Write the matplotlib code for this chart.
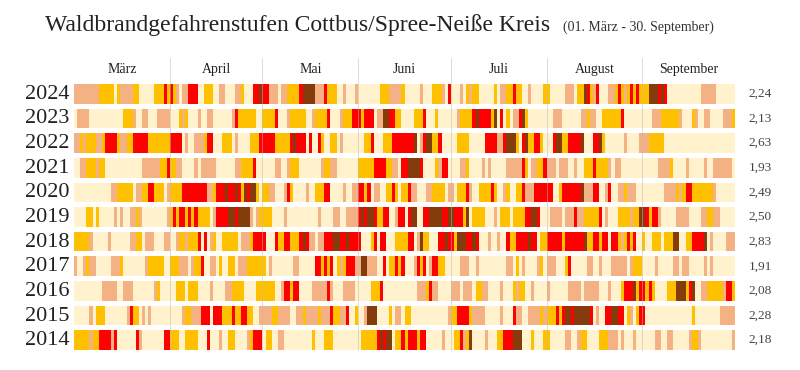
import numpy as np
import matplotlib.pyplot as plt
from matplotlib.colors import ListedColormap, BoundaryNorm

# daily fire danger level (1-5), 01.03. - 30.09., stored as (level, number of days) runs
y2024 = [(2,8),(3,5),(1,1),(3,1),(2,4),(3,2),(1,5),(3,3),(4,1),(3,1),(4,1),(3,1),(2,1),(1,1),(2,2),(4,3),(1,2),(3,3),(1,2),(2,2),(1,3),(2,2),(3,1),(1,3),(4,2),(5,1),(4,2),(2,3),(1,1),(2,2),(3,4),(4,1),(5,4),(2,3),(4,1),(3,3),(1,2),(2,1),(1,3),(2,1),(1,7),(3,3),(2,4),(3,1),(1,5),(2,1),(1,3),(3,3),(2,1),(1,1),(4,1),(1,3),(2,1),(1,1),(3,1),(2,1),(3,2),(1,5),(3,1),(1,1),(2,2),(3,2),(4,1),(3,2),(1,2),(2,1),(1,4),(3,2),(1,5),(2,3),(1,1),(3,2),(5,1),(4,1),(3,1),(2,1),(4,1),(1,3),(2,2),(3,1),(4,1),(3,1),(2,1),(3,1),(4,1),(3,1),(4,1),(3,3),(5,3),(4,1),(5,1),(4,1),(1,11),(2,5),(1,6)]
y2023 = [(1,1),(2,4),(1,11),(3,3),(2,1),(1,2),(2,2),(1,3),(2,4),(1,3),(3,1),(2,1),(3,1),(1,3),(2,1),(1,2),(2,2),(1,6),(2,1),(4,1),(3,6),(1,2),(3,4),(4,1),(1,3),(2,1),(3,5),(1,2),(2,1),(3,4),(4,1),(1,3),(2,1),(3,3),(4,3),(3,1),(4,3),(1,1),(2,2),(5,2),(4,2),(3,2),(1,4),(3,3),(4,1),(1,3),(3,1),(1,6),(2,1),(3,4),(4,1),(5,1),(4,4),(3,1),(5,1),(1,1),(4,1),(1,1),(3,1),(1,1),(2,2),(4,1),(5,1),(3,1),(1,8),(2,3),(1,6),(2,2),(3,1),(2,2),(1,2),(3,6),(4,1),(1,9),(2,3),(3,6),(2,1),(1,3),(3,1),(2,1),(1,2),(2,2),(1,4),(2,3),(3,1)]
y2022 = [(2,2),(3,1),(2,1),(3,3),(2,2),(3,1),(4,4),(3,1),(2,2),(3,2),(4,5),(3,7),(4,4),(1,1),(2,1),(1,2),(2,3),(3,1),(4,2),(1,3),(3,3),(1,1),(2,1),(1,4),(3,3),(4,5),(3,5),(4,1),(5,1),(4,3),(1,1),(4,1),(1,2),(4,1),(3,1),(1,2),(3,2),(1,1),(2,1),(1,7),(3,2),(4,1),(1,3),(3,3),(4,7),(5,1),(1,1),(2,1),(4,1),(5,2),(3,2),(4,1),(1,5),(3,4),(1,5),(4,4),(2,2),(4,1),(5,3),(3,1),(1,1),(4,1),(5,1),(3,2),(4,2),(3,1),(1,3),(4,1),(5,2),(3,2),(4,4),(5,1),(1,3),(4,2),(5,1),(3,1),(1,6),(2,1),(1,4),(2,3),(3,5),(1,23)]
y2021 = [(1,2),(2,2),(3,3),(2,1),(3,2),(1,12),(2,6),(3,2),(4,1),(3,2),(2,2),(1,4),(2,1),(1,1),(2,5),(1,6),(2,2),(3,4),(4,1),(1,6),(2,2),(1,2),(2,1),(3,3),(1,7),(2,1),(3,2),(2,2),(1,7),(3,5),(4,4),(3,2),(2,2),(1,1),(4,2),(5,4),(4,1),(1,4),(3,1),(2,1),(4,2),(1,4),(2,2),(3,1),(1,4),(2,1),(1,1),(2,1),(1,5),(2,5),(4,1),(3,1),(1,1),(2,2),(3,2),(4,1),(2,3),(1,1),(2,3),(1,2),(2,1),(1,2),(3,3),(4,1),(3,4),(2,1),(1,1),(2,2),(1,12),(2,4),(3,1),(1,4),(2,1),(1,5),(2,1),(1,2),(2,6),(1,1)]
y2020 = [(1,12),(2,2),(3,5),(1,1),(2,2),(3,2),(4,2),(3,3),(1,1),(2,1),(3,4),(4,8),(2,2),(3,1),(4,3),(5,1),(4,2),(5,1),(4,1),(3,1),(5,1),(4,1),(5,2),(3,1),(1,1),(3,2),(2,2),(1,3),(2,1),(4,1),(3,1),(1,4),(2,1),(1,2),(3,3),(4,2),(1,4),(2,1),(1,2),(2,2),(4,2),(3,1),(4,1),(1,1),(2,2),(1,2),(3,2),(4,1),(3,1),(1,1),(3,2),(4,1),(2,2),(1,3),(2,2),(3,4),(1,1),(2,2),(1,1),(3,3),(4,1),(2,1),(1,2),(3,4),(4,1),(3,1),(1,2),(2,1),(3,1),(1,2),(3,2),(4,1),(2,3),(4,6),(1,2),(3,1),(4,6),(5,1),(2,3),(4,2),(1,2),(2,1),(4,1),(1,2),(2,2),(3,1),(2,3),(1,9),(2,4),(3,1),(2,1),(3,1),(4,2),(3,7),(2,1),(1,6)]
y2019 = [(1,4),(3,2),(1,1),(3,1),(1,5),(2,1),(1,1),(2,1),(1,2),(2,2),(3,1),(2,1),(1,8),(2,1),(3,1),(4,1),(3,1),(4,2),(3,1),(4,1),(3,1),(4,1),(3,4),(1,1),(2,1),(4,4),(5,2),(4,1),(5,4),(2,1),(1,1),(2,1),(3,4),(1,4),(2,1),(1,10),(2,1),(1,4),(2,2),(1,2),(2,4),(4,1),(5,1),(4,1),(5,2),(4,1),(3,2),(4,2),(1,2),(2,1),(4,2),(1,1),(4,1),(5,2),(1,2),(4,2),(5,4),(4,2),(5,2),(4,3),(3,1),(5,1),(1,1),(3,4),(1,3),(2,1),(1,1),(3,3),(1,1),(3,4),(4,2),(5,2),(4,1),(1,3),(2,4),(1,1),(2,3),(4,1),(2,2),(3,5),(4,1),(1,1),(2,1),(1,3),(3,4),(2,1),(3,2),(5,2),(4,1),(3,1),(4,2),(2,1),(1,5),(2,4),(1,4),(2,2),(3,2),(2,2),(1,5)]
y2018 = [(3,5),(2,1),(1,5),(2,1),(1,6),(2,2),(3,2),(1,1),(2,3),(1,3),(2,2),(1,2),(2,1),(3,2),(2,1),(3,3),(4,1),(1,1),(4,1),(1,1),(2,1),(3,1),(1,2),(3,5),(1,1),(2,3),(3,1),(4,4),(1,3),(4,1),(3,2),(4,2),(3,3),(4,1),(5,1),(4,1),(2,2),(1,1),(2,2),(4,3),(5,2),(4,2),(5,1),(4,4),(1,3),(3,1),(4,1),(1,1),(4,2),(1,3),(3,4),(4,2),(1,1),(2,1),(5,1),(3,2),(1,3),(4,2),(5,1),(4,2),(3,1),(5,3),(4,2),(5,1),(4,1),(1,3),(2,1),(1,2),(2,1),(1,2),(4,1),(3,2),(4,4),(5,1),(4,2),(1,1),(3,2),(4,5),(3,1),(4,6),(5,1),(3,2),(4,2),(3,1),(4,2),(1,1),(4,2),(3,1),(2,1),(3,1),(4,1),(3,1),(4,1),(1,2),(3,1),(1,2),(3,3),(1,1),(3,3),(5,2),(1,2),(3,2),(4,4),(5,1),(1,1),(2,1),(1,4),(2,3)]
y2017 = [(2,1),(1,2),(2,1),(3,1),(2,2),(1,5),(2,3),(3,1),(1,7),(2,1),(3,5),(1,2),(3,3),(2,3),(1,1),(2,1),(3,2),(4,1),(1,2),(2,2),(1,1),(3,1),(1,2),(3,2),(1,1),(2,3),(3,6),(1,1),(2,1),(1,7),(2,2),(1,5),(4,2),(3,1),(4,1),(3,1),(4,1),(1,1),(3,1),(2,1),(3,1),(4,3),(2,2),(5,2),(2,3),(1,2),(4,1),(1,1),(3,2),(4,1),(3,1),(4,1),(1,3),(2,1),(4,1),(3,1),(4,1),(1,1),(2,1),(4,2),(3,2),(1,5),(2,3),(1,2),(2,1),(1,9),(2,2),(1,1),(3,1),(1,1),(2,1),(1,4),(2,1),(3,1),(1,1),(2,3),(1,3),(3,1),(4,1),(1,5),(2,2),(1,2),(2,1),(1,3),(2,5),(1,1),(2,1),(3,3),(1,4),(2,1),(1,5),(2,2),(1,1),(2,2),(1,5),(2,1),(1,1),(2,1),(1,7)]
y2016 = [(1,9),(2,5),(1,2),(2,3),(1,7),(2,1),(3,1),(1,5),(3,3),(1,1),(3,3),(1,4),(2,1),(1,4),(2,2),(3,4),(1,4),(3,6),(1,2),(2,1),(4,2),(3,1),(4,2),(1,4),(2,5),(4,1),(2,1),(1,3),(2,4),(1,5),(3,3),(4,1),(1,11),(2,3),(3,1),(4,1),(2,2),(1,4),(2,3),(1,1),(2,3),(1,1),(3,2),(2,2),(1,4),(2,1),(1,3),(3,1),(2,1),(3,2),(1,2),(2,1),(1,4),(2,1),(1,6),(2,4),(1,1),(2,5),(1,3),(2,1),(1,3),(3,1),(4,3),(5,1),(3,1),(4,2),(3,1),(4,1),(3,1),(1,4),(3,3),(5,3),(3,1),(4,1),(5,1),(1,2),(2,2),(3,5),(2,1),(4,2),(3,1)]
y2015 = [(1,5),(2,1),(1,1),(3,3),(1,7),(2,1),(4,1),(3,2),(1,1),(2,1),(1,1),(2,1),(1,10),(2,1),(3,2),(2,3),(4,3),(1,1),(4,3),(3,3),(4,1),(3,2),(4,2),(3,2),(1,2),(2,4),(3,2),(2,4),(1,2),(2,2),(3,1),(2,4),(3,1),(2,3),(4,1),(3,2),(2,2),(4,1),(1,2),(3,1),(1,2),(2,1),(5,3),(1,4),(3,1),(1,1),(2,2),(1,1),(3,2),(1,12),(2,1),(3,2),(4,4),(3,1),(2,4),(1,5),(2,1),(1,3),(4,1),(2,2),(1,2),(2,4),(3,1),(2,1),(3,3),(4,1),(3,1),(4,1),(5,2),(4,1),(5,5),(4,1),(1,1),(2,1),(1,2),(4,2),(5,2),(4,2),(1,1),(3,1),(2,1),(1,1),(3,1),(4,2),(1,15),(3,1),(1,8),(2,5)]
y2014 = [(3,5),(2,1),(3,2),(4,4),(2,1),(4,1),(1,6),(4,1),(2,1),(1,7),(4,2),(3,3),(1,2),(3,4),(1,3),(4,1),(1,3),(2,1),(1,2),(3,2),(1,4),(2,1),(3,1),(4,3),(1,1),(3,2),(1,2),(2,2),(1,9),(3,1),(1,3),(3,3),(1,9),(3,5),(4,1),(5,1),(4,1),(5,2),(1,1),(3,2),(4,1),(3,1),(4,3),(3,1),(4,2),(1,5),(2,1),(1,3),(3,2),(4,1),(2,1),(3,1),(5,1),(1,4),(2,1),(1,3),(3,2),(4,3),(5,3),(1,3),(3,1),(1,3),(3,2),(1,5),(2,2),(1,2),(2,1),(3,2),(1,4),(3,3),(2,3),(1,1),(2,1),(1,3),(2,1),(1,6),(2,2),(1,2),(2,2),(1,5),(2,1),(3,2),(2,1),(1,10),(2,1)]

years = [2024, 2023, 2022, 2021, 2020, 2019, 2018, 2017, 2016, 2015, 2014]
rows = [y2024, y2023, y2022, y2021, y2020, y2019, y2018, y2017, y2016, y2015, y2014]
means = ['2,24', '2,13', '2,63', '1,93', '2,49', '2,50', '2,83', '1,91', '2,08', '2,28', '2,18']
months = ['März', 'April', 'Mai', 'Juni', 'Juli', 'August', 'September']
month_days = [31, 30, 31, 30, 31, 31, 30]
level_colors = ['#FFF2CC', '#F4B183', '#FFC000', '#FF0000', '#843C0C']

serif = ['Liberation Serif', 'DejaVu Serif']
cmap = ListedColormap(level_colors)
norm = BoundaryNorm([0.5, 1.5, 2.5, 3.5, 4.5, 5.5], cmap.N)

fig = plt.figure(figsize=(8, 3.7), dpi=100)
ax = fig.add_axes([74/800, 20/370, 661/800, 266/370])

ndays = sum(month_days)
x_edges = np.arange(ndays + 1)
for r, runs in enumerate(rows):
    vals = np.repeat([v for v, n in runs], [n for v, n in runs])
    assert len(vals) == ndays, (years[r], len(vals))
    ax.pcolormesh(x_edges, [r - 0.4, r + 0.4], vals[None, :], cmap=cmap, norm=norm,
                  shading='flat', edgecolors='none', antialiased=False)
    ax.text(-1.4, r + 0.02, str(years[r]), ha='right', va='center', fontsize=16,
            family=serif, color='#222222')
    ax.text(218.5, r, means[r], ha='left', va='center', fontsize=9.5,
            family=serif, color='#444444')

# month separators and labels
bounds = np.concatenate([[0], np.cumsum(month_days)])
for b in bounds[1:-1]:
    ax.plot([b, b], [-1.45, 10.4], color='#bbbbbb', lw=0.6, alpha=0.6, clip_on=False)
for i, m in enumerate(months):
    ax.text((bounds[i] + bounds[i + 1]) / 2, -1.0, m, ha='center', va='center',
            fontsize=10, family=serif, color='#222222')

ax.set_xlim(0, ndays)
ax.set_ylim(10.4, -0.4)
ax.axis('off')

fig.text(45/800, 1 - 31/370, 'Waldbrandgefahrenstufen Cottbus/Spree-Neiße Kreis',
         fontsize=17, family=serif, va='baseline', color='#222222')
fig.text(563/800, 1 - 31/370, '(01. März - 30. September)', fontsize=10,
         family=serif, va='baseline', color='#333333')

fig.savefig('out.png', dpi=100)
